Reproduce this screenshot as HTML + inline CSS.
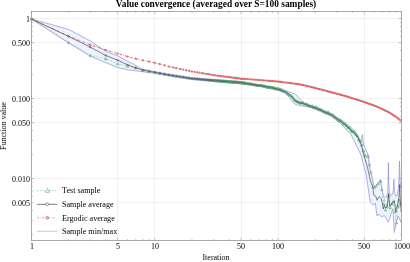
<!DOCTYPE html><html><head><meta charset="utf-8"><title>Value convergence</title><style>
html,body{margin:0;padding:0;background:#fff}
#c{position:relative;width:410px;height:262px;overflow:hidden;background:#fff;
   font-family:"Liberation Serif",serif;color:#000}
.t{position:absolute;white-space:nowrap;line-height:1;will-change:transform}
.tk{font-size:8px}
.xl{transform:translateX(-50%);top:242.7px}
.yl{right:380.5px;transform:translateY(-50%);margin-top:1.2px}
.lg{left:62.3px;font-size:8.12px;transform:translateY(-50%);margin-top:0.4px}
</style></head><body><div id="c">
<svg width="410" height="262" viewBox="0 0 410 262" style="position:absolute;left:0;top:0">
<rect width="410" height="262" fill="#fff"/>
<path d="M117.5,11.5 V240.5 M154.5,11.5 V240.5 M241.5,11.5 V240.5 M278.5,11.5 V240.5 M364.5,11.5 V240.5 M31.5,18.5 H401.5 M31.5,42.5 H401.5 M31.5,98.5 H401.5 M31.5,122.5 H401.5 M31.5,178.5 H401.5 M31.5,202.5 H401.5" stroke="#f1f1f1" stroke-width="1" fill="none"/>
<path d="M31.5,19.0 L68.6,29.4 L90.3,40.9 L105.8,51.4 L117.7,55.9 L127.5,61.2 L135.7,65.4 L142.9,69.2 L149.2,70.6 L154.8,71.6 L170.0,74.3 L192.0,77.8 L215.0,79.8 L241.0,81.8 L260.0,84.8 L278.3,88.6 L288.3,91.5 L295.7,94.3 L299.3,98.6 L302.4,102.4 L306.0,104.0 L320.0,108.6 L334.4,115.8 L343.0,121.2 L350.0,126.6 L355.9,132.4 L361.0,141.2 L362.4,134.6 L363.9,145.6 L366.0,150.0 L368.3,155.5 L369.5,167.9 L371.4,174.0 L373.9,185.9 L374.9,186.9 L380.4,180.3 L382.4,191.9 L383.8,197.3 L386.3,196.8 L387.6,194.0 L388.0,183.0 L388.4,162.7 L388.8,183.0 L389.3,193.0 L390.9,195.4 L392.8,194.0 L393.5,188.0 L393.9,179.2 L394.3,188.0 L395.0,194.5 L396.3,196.3 L397.8,193.0 L398.9,182.0 L399.5,161.0 L400.1,182.0 L400.7,188.0 L401.5,190.0 L401.5,223.0 L398.2,216.0 L396.2,222.9 L394.3,232.4 L393.8,222.8 L392.8,209.0 L390.8,214.9 L388.3,222.3 L384.3,215.4 L381.9,216.8 L378.9,214.4 L376.9,215.9 L375.4,203.0 L373.4,205.4 L370.4,202.0 L369.5,198.0 L369.0,193.8 L368.0,186.9 L366.0,174.0 L364.3,167.9 L361.0,155.0 L355.9,144.2 L350.0,132.6 L346.4,130.3 L344.9,127.8 L339.9,122.9 L330.0,115.8 L320.0,111.2 L310.0,107.3 L301.8,105.9 L295.7,104.7 L293.2,102.3 L289.6,97.6 L284.7,93.0 L278.3,90.4 L260.0,86.4 L241.0,83.4 L215.0,81.4 L192.0,79.4 L170.0,76.1 L154.8,73.4 L149.2,72.6 L142.9,71.8 L135.7,70.8 L127.5,69.8 L117.7,67.5 L105.8,62.7 L90.3,56.2 L68.6,42.9 L31.5,19.0Z" fill="#edf2fd" stroke="none"/>
<path d="M31.5,19.0 L68.6,42.5 L90.3,55.4 L105.8,58.8 L117.7,63.7 L127.5,66.0 L135.7,67.8 L142.9,70.2 L149.2,71.3 L154.8,72.3 L170.0,75.1 L192.0,78.5 L215.0,80.5 L241.0,82.5 L250.0,84.0 L260.0,85.5 L270.0,87.0 L278.3,89.0 L285.9,91.9 L290.8,95.3 L294.4,99.3 L298.1,101.8 L303.0,103.0 L310.0,105.6 L320.0,109.2 L330.0,113.8 L335.0,116.8 L339.9,120.3 L344.9,124.3 L349.8,128.6 L353.8,132.0 L357.3,135.5 L361.0,143.0 L364.6,154.0 L366.1,156.3 L368.0,156.3 L369.5,164.0 L370.5,170.0 L372.0,181.0 L372.9,186.9 L374.5,187.5 L377.0,185.0 L380.4,180.9 L381.9,188.9 L382.8,195.8 L383.6,204.0 L384.6,199.0 L385.5,210.0 L386.4,203.0 L387.2,207.0 L388.0,199.0 L388.8,196.0 L389.6,205.0 L390.4,209.0 L391.2,202.0 L392.0,204.5 L393.0,199.5 L394.0,206.0 L395.0,212.0 L395.7,218.0 L396.5,223.0 L397.2,212.0 L397.9,206.0 L398.6,209.0 L399.3,199.0 L400.0,206.0 L400.8,203.0 L401.5,210.0" fill="none" stroke="#58b070" stroke-width="0.45" stroke-dasharray="2,1.6"/>
<path d="M31.5,17.6 L33.0,20.2 L30.1,20.2Z M68.6,41.1 L70.1,43.7 L67.2,43.7Z M90.3,54.0 L91.8,56.6 L88.9,56.6Z M105.8,57.3 L107.2,59.9 L104.3,59.9Z M117.7,62.3 L119.2,64.9 L116.3,64.9Z M127.5,64.5 L128.9,67.2 L126.0,67.2Z M135.7,66.4 L137.2,69.0 L134.3,69.0Z M142.9,68.7 L144.3,71.4 L141.4,71.4Z M149.2,69.8 L150.6,72.5 L147.7,72.5Z M154.8,70.9 L156.3,73.5 L153.4,73.5Z M159.9,71.8 L161.4,74.4 L158.5,74.4Z M164.6,72.6 L166.0,75.2 L163.1,75.2Z M168.9,73.4 L170.3,76.0 L167.4,76.0Z M172.9,74.1 L174.3,76.7 L171.4,76.7Z M176.5,74.6 L178.0,77.3 L175.1,77.3Z M180.0,75.2 L181.5,77.8 L178.6,77.8Z M183.3,75.7 L184.7,78.3 L181.8,78.3Z M186.3,76.2 L187.8,78.8 L184.9,78.8Z M189.2,76.6 L190.7,79.2 L187.8,79.2Z M192.0,77.0 L193.4,79.6 L190.5,79.6Z M194.6,77.3 L196.0,79.9 L193.1,79.9Z M197.1,77.5 L198.5,80.1 L195.6,80.1Z M199.4,77.7 L200.9,80.3 L198.0,80.3Z M201.7,77.9 L203.2,80.5 L200.3,80.5Z M203.9,78.1 L205.4,80.7 L202.5,80.7Z M206.0,78.3 L207.5,80.9 L204.6,80.9Z M208.0,78.4 L209.5,81.1 L206.6,81.1Z M210.0,78.6 L211.4,81.2 L208.5,81.2Z M211.9,78.8 L213.3,81.4 L210.4,81.4Z M213.7,78.9 L215.1,81.5 L212.2,81.5Z M215.4,79.1 L216.9,81.7 L214.0,81.7Z M217.1,79.2 L218.6,81.8 L215.7,81.8Z M218.8,79.3 L220.2,82.0 L217.3,82.0Z M220.4,79.5 L221.8,82.1 L218.9,82.1Z M221.9,79.6 L223.4,82.2 L220.5,82.2Z M223.4,79.7 L224.9,82.3 L222.0,82.3Z M224.9,79.8 L226.4,82.4 L223.5,82.4Z M226.3,79.9 L227.8,82.5 L224.9,82.5Z M227.7,80.0 L229.2,82.7 L226.3,82.7Z M229.1,80.2 L230.5,82.8 L227.6,82.8Z M230.4,80.3 L231.9,82.9 L229.0,82.9Z M231.7,80.4 L233.1,83.0 L230.2,83.0Z M233.0,80.5 L234.4,83.1 L231.5,83.1Z M234.2,80.6 L235.6,83.2 L232.7,83.2Z M235.4,80.7 L236.8,83.3 L233.9,83.3Z M236.6,80.7 L238.0,83.3 L235.1,83.3Z M237.7,80.8 L239.2,83.4 L236.3,83.4Z M238.8,80.9 L240.3,83.5 L237.4,83.5Z M240.0,81.0 L241.4,83.6 L238.5,83.6Z M241.0,81.1 L242.5,83.7 L239.6,83.7Z M242.1,81.3 L243.5,83.8 L240.7,83.8Z M243.1,81.4 L244.6,84.0 L241.7,84.0Z M244.2,81.6 L245.6,84.2 L242.7,84.2Z M245.2,81.8 L246.6,84.3 L243.7,84.3Z M247.1,82.1 L248.5,84.6 L245.7,84.6Z M249.0,82.3 L250.4,84.8 L247.6,84.8Z M250.8,82.5 L252.2,85.1 L249.4,85.1Z M252.6,83.0 L254.0,85.5 L251.2,85.5Z M254.3,83.2 L255.6,85.7 L252.9,85.7Z M255.9,83.6 L257.3,86.0 L254.5,86.0Z M257.5,84.0 L258.9,86.4 L256.1,86.4Z M259.1,84.1 L260.4,86.5 L257.7,86.5Z M260.6,83.9 L261.9,86.4 L259.2,86.4Z M262.0,84.3 L263.4,86.7 L260.7,86.7Z M263.5,84.7 L264.8,87.1 L262.1,87.1Z M264.9,84.7 L266.2,87.1 L263.5,87.1Z M266.2,85.4 L267.6,87.9 L264.9,87.9Z M267.5,85.6 L268.9,88.1 L266.2,88.1Z M268.8,85.8 L270.2,88.2 L267.5,88.2Z M270.1,85.6 L271.4,88.1 L268.7,88.1Z M271.3,86.3 L272.6,88.7 L270.0,88.7Z M272.5,85.9 L273.8,88.3 L271.2,88.3Z M273.7,86.4 L275.0,88.7 L272.4,88.7Z M274.8,86.8 L276.2,89.2 L273.5,89.2Z M276.0,87.4 L277.3,89.8 L274.7,89.8Z M277.1,87.4 L278.4,89.7 L275.8,89.7Z M278.2,87.2 L279.5,89.6 L276.8,89.6Z M279.2,87.9 L280.5,90.2 L277.9,90.2Z M280.3,88.2 L281.6,90.6 L279.0,90.6Z M281.3,88.6 L282.6,90.9 L280.0,90.9Z M282.3,88.8 L283.6,91.1 L281.0,91.1Z M283.7,89.7 L285.0,92.0 L282.5,92.0Z M286.1,90.7 L287.4,93.0 L284.8,93.0Z M287.9,92.4 L289.2,94.7 L286.6,94.7Z M289.7,93.7 L291.0,96.0 L288.4,96.0Z M291.4,94.7 L292.7,97.0 L290.1,97.0Z M293.0,96.4 L294.3,98.7 L291.8,98.7Z M294.6,98.6 L295.9,100.9 L293.4,100.9Z M296.2,99.8 L297.5,102.1 L294.9,102.1Z M297.7,100.5 L299.0,102.8 L296.4,102.8Z M299.2,101.2 L300.4,103.5 L297.9,103.5Z M300.9,101.9 L302.2,104.2 L299.7,104.2Z M302.7,100.9 L303.9,103.2 L301.4,103.2Z M304.3,102.8 L305.6,105.1 L303.1,105.1Z M305.9,102.5 L307.2,104.8 L304.7,104.8Z M307.5,103.4 L308.8,105.7 L306.2,105.7Z M309.0,104.4 L310.3,106.7 L307.8,106.7Z M310.5,104.9 L311.8,107.2 L309.3,107.2Z M312.3,104.6 L313.5,106.9 L311.0,106.9Z M313.9,106.0 L315.2,108.3 L312.7,108.3Z M315.6,105.6 L316.8,107.9 L314.3,107.9Z M317.1,106.7 L318.4,109.0 L315.9,109.0Z M318.7,107.9 L319.9,110.2 L317.4,110.2Z M320.1,107.9 L321.4,110.2 L318.9,110.2Z M321.8,108.9 L323.1,111.2 L320.6,111.2Z M323.5,109.9 L324.7,112.2 L322.2,112.2Z M325.1,110.8 L326.3,113.1 L323.8,113.1Z M326.6,111.4 L327.9,113.7 L325.3,113.7Z M328.1,110.8 L329.4,113.1 L326.8,113.1Z M329.5,112.2 L330.8,114.5 L328.3,114.5Z M331.2,113.2 L332.4,115.5 L329.9,115.5Z M332.7,113.4 L334.0,115.7 L331.5,115.7Z M334.3,115.1 L335.5,117.4 L333.0,117.4Z M335.7,116.2 L337.0,118.5 L334.5,118.5Z M337.4,117.8 L338.6,120.1 L336.1,120.1Z M338.9,119.1 L340.2,121.4 L337.7,121.4Z M340.5,118.8 L341.7,121.1 L339.2,121.1Z M341.9,120.2 L343.2,122.5 L340.7,122.5Z M343.5,122.2 L344.8,124.5 L342.3,124.5Z M345.1,122.6 L346.4,124.9 L343.8,124.9Z M346.6,124.1 L347.9,126.4 L345.3,126.4Z M348.1,126.0 L349.4,128.3 L346.8,128.3Z M349.7,126.6 L350.9,128.9 L348.4,128.9Z M351.2,129.0 L352.5,131.3 L349.9,131.3Z M352.7,130.4 L354.0,132.7 L351.4,132.7Z M354.3,130.4 L355.5,132.7 L353.0,132.7Z M355.8,132.8 L357.1,135.1 L354.5,135.1Z M357.3,134.7 L358.5,137.0 L356.0,137.0Z M358.8,138.2 L360.1,140.5 L357.6,140.5Z M360.4,140.0 L361.6,142.3 L359.1,142.3Z M361.8,143.7 L363.1,146.0 L360.6,146.0Z M363.4,149.7 L364.7,152.0 L362.1,152.0Z M364.9,153.9 L366.2,156.2 L363.6,156.2Z" fill="#a4d6b2" stroke="#58aa72" stroke-width="0.42"/>
<path d="M368.0,154.7 L369.6,157.6 L366.4,157.6Z M369.6,163.4 L370.9,165.6 L368.4,165.6Z M370.8,171.0 L372.1,173.2 L369.6,173.2Z M372.9,185.7 L374.1,187.9 L371.6,187.9Z M374.6,186.1 L375.9,188.4 L373.4,188.4Z M376.3,184.4 L377.6,186.7 L375.1,186.7Z M378.2,182.3 L379.4,184.6 L376.9,184.6Z M380.4,179.3 L382.0,182.2 L378.8,182.2Z M382.0,188.4 L383.2,190.7 L380.8,190.7Z M383.6,202.8 L384.9,205.0 L382.4,205.0Z M385.5,208.8 L386.8,211.0 L384.2,211.0Z M387.2,205.8 L388.4,208.0 L385.9,208.0Z M388.8,194.8 L390.1,197.0 L387.6,197.0Z M390.2,206.8 L391.4,209.0 L388.9,209.0Z M391.8,202.6 L393.1,204.9 L390.6,204.9Z M393.4,200.8 L394.6,203.1 L392.1,203.1Z M395.0,210.8 L396.2,213.0 L393.8,213.0Z M396.5,221.8 L397.8,224.0 L395.2,224.0Z M397.9,204.8 L399.1,207.0 L396.6,207.0Z M399.2,199.2 L400.4,201.4 L397.9,201.4Z M400.6,202.5 L401.9,204.7 L399.4,204.7Z" fill="#a6d8b4" stroke="#4fa46a" stroke-width="0.4"/>
<path d="M31.5,19.0 L68.6,29.4 L90.3,40.9 L105.8,51.4 L117.7,55.9 L127.5,61.2 L135.7,65.4 L142.9,69.2 L149.2,70.6 L154.8,71.6 L170.0,74.3 L192.0,77.8 L215.0,79.8 L241.0,81.8 L260.0,84.8 L278.3,88.6 L288.3,91.5 L295.7,94.3 L299.3,98.6 L302.4,102.4 L306.0,104.0 L320.0,108.6 L334.4,115.8 L343.0,121.2 L350.0,126.6 L355.9,132.4 L361.0,141.2 L362.4,134.6 L363.9,145.6 L366.0,150.0 L368.3,155.5 L369.5,167.9 L371.4,174.0 L373.9,185.9 L374.9,186.9 L380.4,180.3 L382.4,191.9 L383.8,197.3 L386.3,196.8 L387.6,194.0 L388.0,183.0 L388.4,162.7 L388.8,183.0 L389.3,193.0 L390.9,195.4 L392.8,194.0 L393.5,188.0 L393.9,179.2 L394.3,188.0 L395.0,194.5 L396.3,196.3 L397.8,193.0 L398.9,182.0 L399.5,161.0 L400.1,182.0 L400.7,188.0 L401.5,190.0" fill="none" stroke="#8589d4" stroke-width="0.65"/>
<path d="M31.5,19.0 L68.6,42.9 L90.3,56.2 L105.8,62.7 L117.7,67.5 L127.5,69.8 L135.7,70.8 L142.9,71.8 L149.2,72.6 L154.8,73.4 L170.0,76.1 L192.0,79.4 L215.0,81.4 L241.0,83.4 L260.0,86.4 L278.3,90.4 L284.7,93.0 L289.6,97.6 L293.2,102.3 L295.7,104.7 L301.8,105.9 L310.0,107.3 L320.0,111.2 L330.0,115.8 L339.9,122.9 L344.9,127.8 L346.4,130.3 L350.0,132.6 L355.9,144.2 L361.0,155.0 L364.3,167.9 L366.0,174.0 L368.0,186.9 L369.0,193.8 L369.5,198.0 L370.4,202.0 L373.4,205.4 L375.4,203.0 L376.9,215.9 L378.9,214.4 L381.9,216.8 L384.3,215.4 L388.3,222.3 L390.8,214.9 L392.8,209.0 L393.8,222.8 L394.3,232.4 L396.2,222.9 L398.2,216.0 L401.5,223.0" fill="none" stroke="#8589d4" stroke-width="0.65"/>
<path d="M31.5,19.0 L68.6,36.4 L90.3,47.2 L105.8,55.5 L117.7,60.2 L127.5,64.8 L135.7,67.8 L142.9,70.2 L149.2,71.3 L154.8,72.3 L170.0,75.1 L192.0,78.5 L215.0,80.5 L241.0,82.5 L250.0,84.0 L260.0,85.5 L270.0,87.2 L278.3,89.3 L285.9,92.3 L290.8,95.7 L294.4,99.8 L298.1,102.3 L303.0,103.5 L310.0,106.2 L320.0,109.9 L330.0,114.4 L335.0,117.4 L339.9,120.9 L344.9,124.9 L349.8,129.3 L353.8,132.8 L357.3,136.5 L361.0,144.5 L363.9,155.0 L366.0,162.0 L367.6,168.2 L369.2,175.0 L370.5,181.4 L372.7,186.5 L373.8,195.2 L375.9,196.5 L377.1,200.3 L379.2,196.5 L381.3,198.6 L382.6,205.3 L383.3,209.0 L384.3,205.4 L385.3,207.9 L387.3,206.4 L388.6,193.6 L389.7,206.4 L391.3,204.5 L392.3,202.8 L394.4,200.7 L395.9,212.0 L397.7,204.0 L399.0,197.0 L399.6,184.5 L400.3,200.0 L400.8,206.0 L401.5,212.9" fill="none" stroke="#34343f" stroke-width="0.6"/>
<path d="M31.5,18.0 L32.5,19.0 L31.5,20.0 L30.5,19.0Z M68.6,35.4 L69.6,36.4 L68.6,37.4 L67.6,36.4Z M90.3,46.2 L91.3,47.2 L90.3,48.2 L89.3,47.2Z M105.8,54.5 L106.8,55.5 L105.8,56.5 L104.8,55.5Z M117.7,59.2 L118.7,60.2 L117.7,61.2 L116.7,60.2Z M127.5,63.8 L128.5,64.8 L127.5,65.8 L126.5,64.8Z M135.7,66.8 L136.7,67.8 L135.7,68.8 L134.7,67.8Z M142.9,69.2 L143.9,70.2 L142.9,71.2 L141.9,70.2Z M149.2,70.3 L150.2,71.3 L149.2,72.3 L148.2,71.3Z M154.8,71.3 L155.8,72.3 L154.8,73.3 L153.8,72.3Z M159.9,72.2 L160.9,73.2 L159.9,74.2 L158.9,73.2Z M164.6,73.1 L165.6,74.1 L164.6,75.1 L163.6,74.1Z M168.9,73.9 L169.9,74.9 L168.9,75.9 L167.9,74.9Z M172.9,74.5 L173.9,75.5 L172.9,76.5 L171.9,75.5Z M176.5,75.1 L177.5,76.1 L176.5,77.1 L175.5,76.1Z M180.0,75.6 L181.0,76.6 L180.0,77.6 L179.0,76.6Z M183.3,76.1 L184.3,77.1 L183.3,78.1 L182.3,77.1Z M186.3,76.6 L187.3,77.6 L186.3,78.6 L185.3,77.6Z M189.2,77.1 L190.2,78.1 L189.2,79.1 L188.2,78.1Z M192.0,77.5 L193.0,78.5 L192.0,79.5 L191.0,78.5Z M194.6,77.7 L195.6,78.7 L194.6,79.7 L193.6,78.7Z M197.1,77.9 L198.1,78.9 L197.1,79.9 L196.1,78.9Z M199.4,78.1 L200.4,79.1 L199.4,80.1 L198.4,79.1Z M201.7,78.3 L202.7,79.3 L201.7,80.3 L200.7,79.3Z M203.9,78.5 L204.9,79.5 L203.9,80.5 L202.9,79.5Z M206.0,78.7 L207.0,79.7 L206.0,80.7 L205.0,79.7Z M208.0,78.9 L209.0,79.9 L208.0,80.9 L207.0,79.9Z M210.0,79.1 L211.0,80.1 L210.0,81.1 L209.0,80.1Z M211.9,79.2 L212.9,80.2 L211.9,81.2 L210.9,80.2Z M213.7,79.4 L214.7,80.4 L213.7,81.4 L212.7,80.4Z M215.4,79.5 L216.4,80.5 L215.4,81.5 L214.4,80.5Z M217.1,79.7 L218.1,80.7 L217.1,81.6 L216.2,80.7Z M218.8,79.8 L219.7,80.8 L218.8,81.7 L217.8,80.8Z M220.4,80.0 L221.3,80.9 L220.4,81.9 L219.4,80.9Z M221.9,80.1 L222.8,81.0 L221.9,82.0 L221.0,81.0Z M223.4,80.3 L224.3,81.2 L223.4,82.1 L222.5,81.2Z M224.9,80.4 L225.8,81.3 L224.9,82.1 L224.0,81.3Z M226.3,80.5 L227.2,81.4 L226.3,82.2 L225.5,81.4Z M227.7,80.7 L228.6,81.5 L227.7,82.3 L226.9,81.5Z M229.1,80.8 L229.9,81.6 L229.1,82.4 L228.3,81.6Z M230.4,80.9 L231.2,81.7 L230.4,82.5 L229.6,81.7Z M231.7,81.0 L232.5,81.8 L231.7,82.6 L230.9,81.8Z M233.0,81.1 L233.7,81.9 L233.0,82.7 L232.2,81.9Z M234.2,81.3 L234.9,82.0 L234.2,82.8 L233.4,82.0Z M235.4,81.4 L236.1,82.1 L235.4,82.8 L234.7,82.1Z M236.6,81.5 L237.3,82.2 L236.6,82.9 L235.8,82.2Z M237.7,81.6 L238.4,82.3 L237.7,83.0 L237.0,82.3Z M238.8,81.7 L239.5,82.4 L238.8,83.1 L238.2,82.4Z M240.0,81.8 L240.6,82.5 L240.0,83.1 L239.3,82.5Z M241.0,81.9 L241.7,82.5 L241.0,83.2 L240.4,82.5Z M242.1,82.1 L242.7,82.7 L242.1,83.4 L241.4,82.7Z M243.1,82.2 L243.8,82.9 L243.1,83.5 L242.5,82.9Z M244.2,82.4 L244.8,83.0 L244.2,83.7 L243.5,83.0Z M245.2,82.6 L245.8,83.2 L245.2,83.8 L244.5,83.2Z M247.1,82.9 L247.7,83.5 L247.1,84.1 L246.5,83.5Z M249.0,83.2 L249.5,83.8 L249.0,84.4 L248.4,83.8Z M250.8,83.5 L251.3,84.1 L250.8,84.6 L250.3,84.1Z M252.6,83.8 L253.1,84.3 L252.6,84.9 L252.0,84.3Z M254.3,84.1 L254.7,84.6 L254.3,85.1 L253.8,84.6Z M255.9,84.4 L256.4,84.8 L255.9,85.3 L255.4,84.8Z M257.5,84.6 L258.0,85.1 L257.5,85.5 L257.1,85.1Z M259.1,84.9 L259.5,85.3 L259.1,85.8 L258.6,85.3Z M260.6,85.2 L261.0,85.6 L260.6,86.0 L260.2,85.6Z M262.0,85.4 L262.4,85.8 L262.0,86.2 L261.6,85.8Z M263.5,85.7 L263.8,86.1 L263.5,86.4 L263.1,86.1Z M264.9,85.9 L265.2,86.3 L264.9,86.7 L264.5,86.3Z M266.2,86.2 L266.5,86.5 L266.2,86.9 L265.9,86.5Z M267.5,86.4 L267.8,86.8 L267.5,87.1 L267.2,86.8Z M268.8,86.7 L269.1,87.0 L268.8,87.3 L268.5,87.0Z M270.1,86.9 L270.4,87.2 L270.1,87.5 L269.8,87.2Z M271.3,87.3 L271.6,87.5 L271.3,87.8 L271.0,87.5Z M272.5,87.6 L272.8,87.8 L272.5,88.1 L272.3,87.8Z M273.7,87.9 L273.9,88.1 L273.7,88.4 L273.5,88.1Z M274.8,88.2 L275.1,88.4 L274.8,88.6 L274.6,88.4Z M276.0,88.5 L276.2,88.7 L276.0,88.9 L275.8,88.7Z M277.1,88.8 L277.3,89.0 L277.1,89.2 L276.9,89.0Z M278.2,89.0 L278.4,89.3 L278.2,89.5 L277.9,89.3Z M279.2,89.4 L279.4,89.7 L279.2,89.9 L279.0,89.7Z M280.3,89.9 L280.5,90.1 L280.3,90.3 L280.0,90.1Z M281.3,90.3 L281.5,90.5 L281.3,90.7 L281.1,90.5Z M282.3,90.7 L282.5,90.9 L282.3,91.1 L282.1,90.9Z M283.7,91.2 L284.0,91.5 L283.7,91.7 L283.5,91.5Z M285.2,91.8 L285.4,92.0 L285.2,92.2 L285.0,92.0Z M286.6,92.5 L286.8,92.8 L286.6,93.0 L286.3,92.8Z M287.9,93.5 L288.1,93.7 L287.9,93.9 L287.7,93.7Z M289.2,94.4 L289.5,94.6 L289.2,94.8 L289.0,94.6Z M290.5,95.3 L290.8,95.5 L290.5,95.7 L290.3,95.5Z M291.8,96.6 L292.0,96.8 L291.8,97.0 L291.6,96.8Z M293.0,98.0 L293.3,98.2 L293.0,98.5 L292.8,98.2Z M294.2,99.4 L294.5,99.6 L294.2,99.8 L294.0,99.6Z M295.4,100.3 L295.6,100.5 L295.4,100.7 L295.2,100.5Z M296.6,101.0 L296.8,101.3 L296.6,101.5 L296.3,101.3Z M297.7,101.8 L297.9,102.0 L297.7,102.2 L297.5,102.0Z M298.8,102.3 L299.0,102.5 L298.8,102.7 L298.6,102.5Z M299.9,102.5 L300.1,102.7 L299.9,103.0 L299.7,102.7Z M300.9,102.8 L301.2,103.0 L300.9,103.2 L300.7,103.0Z M302.0,103.0 L302.2,103.2 L302.0,103.5 L301.8,103.2Z M303.0,103.3 L303.2,103.5 L303.0,103.7 L302.8,103.5Z M304.0,103.7 L304.2,103.9 L304.0,104.1 L303.8,103.9Z M305.3,104.2 L305.5,104.4 L305.3,104.6 L305.1,104.4Z M306.6,104.7 L306.8,104.9 L306.6,105.1 L306.4,104.9Z M307.8,105.1 L308.0,105.4 L307.8,105.6 L307.6,105.4Z M309.0,105.6 L309.3,105.8 L309.0,106.1 L308.8,105.8Z M310.2,106.1 L310.5,106.3 L310.2,106.5 L310.0,106.3Z M311.4,106.5 L311.6,106.7 L311.4,106.9 L311.2,106.7Z M312.5,106.9 L312.8,107.1 L312.5,107.4 L312.3,107.1Z M313.7,107.3 L313.9,107.6 L313.7,107.8 L313.4,107.6Z M314.7,107.7 L315.0,108.0 L314.7,108.2 L314.5,108.0Z M315.8,108.1 L316.0,108.4 L315.8,108.6 L315.6,108.4Z M316.9,108.5 L317.1,108.7 L316.9,109.0 L316.6,108.7Z M317.9,108.9 L318.1,109.1 L317.9,109.3 L317.7,109.1Z M318.9,109.3 L319.1,109.5 L318.9,109.7 L318.7,109.5Z M320.1,109.7 L320.4,110.0 L320.1,110.2 L319.9,110.0Z M321.4,110.3 L321.6,110.5 L321.4,110.7 L321.1,110.5Z M322.5,110.8 L322.8,111.0 L322.5,111.3 L322.3,111.0Z M323.7,111.3 L323.9,111.6 L323.7,111.8 L323.5,111.6Z M324.8,111.9 L325.0,112.1 L324.8,112.3 L324.6,112.1Z M325.9,112.4 L326.2,112.6 L325.9,112.8 L325.7,112.6Z M327.0,112.8 L327.2,113.1 L327.0,113.3 L326.8,113.1Z M328.1,113.3 L328.3,113.5 L328.1,113.8 L327.9,113.5Z M329.1,113.8 L329.4,114.0 L329.1,114.2 L328.9,114.0Z M330.2,114.3 L330.4,114.5 L330.2,114.7 L329.9,114.5Z M331.2,114.9 L331.4,115.1 L331.2,115.3 L330.9,115.1Z M332.3,115.6 L332.6,115.8 L332.3,116.0 L332.1,115.8Z M333.5,116.3 L333.7,116.5 L333.5,116.7 L333.3,116.5Z M334.6,117.0 L334.9,117.2 L334.6,117.4 L334.4,117.2Z M335.7,117.7 L336.0,117.9 L335.7,118.1 L335.5,117.9Z M336.8,118.5 L337.0,118.7 L336.8,118.9 L336.6,118.7Z M337.9,119.2 L338.1,119.5 L337.9,119.7 L337.7,119.5Z M338.9,120.0 L339.2,120.2 L338.9,120.4 L338.7,120.2Z M340.0,120.7 L340.2,120.9 L340.0,121.2 L339.7,120.9Z M341.0,121.5 L341.2,121.7 L341.0,122.0 L340.7,121.7Z M342.1,122.4 L342.3,122.7 L342.1,122.9 L341.9,122.7Z M343.2,123.3 L343.5,123.6 L343.2,123.8 L343.0,123.6Z M344.3,124.2 L344.6,124.4 L344.3,124.7 L344.1,124.4Z M345.4,125.1 L345.6,125.4 L345.4,125.6 L345.2,125.4Z M346.5,126.1 L346.7,126.3 L346.5,126.5 L346.3,126.3Z M347.5,127.0 L347.7,127.2 L347.5,127.5 L347.3,127.2Z M348.5,127.9 L348.7,128.2 L348.5,128.4 L348.3,128.2Z M349.7,129.0 L349.9,129.2 L349.7,129.4 L349.4,129.2Z M350.8,129.9 L351.0,130.2 L350.8,130.4 L350.6,130.2Z M351.9,130.9 L352.1,131.1 L351.9,131.3 L351.7,131.1Z M352.9,131.8 L353.2,132.1 L352.9,132.3 L352.7,132.1Z M354.0,132.8 L354.2,133.0 L354.0,133.2 L353.8,133.0Z M355.0,133.9 L355.2,134.1 L355.0,134.3 L354.8,134.1Z M356.0,134.9 L356.3,135.2 L356.0,135.4 L355.8,135.2Z M357.2,136.1 L357.4,136.3 L357.2,136.6 L356.9,136.3Z M358.2,138.3 L358.5,138.5 L358.2,138.8 L358.0,138.5Z M359.3,140.6 L359.5,140.9 L359.3,141.1 L359.1,140.9Z M360.4,142.9 L360.6,143.1 L360.4,143.3 L360.1,143.1Z M361.4,145.7 L361.6,145.9 L361.4,146.1 L361.2,145.9Z M362.4,149.3 L362.6,149.6 L362.4,149.8 L362.2,149.6Z M363.5,153.3 L363.7,153.6 L363.5,153.8 L363.3,153.6Z M364.6,157.0 L364.8,157.3 L364.6,157.5 L364.4,157.3Z M365.6,160.6 L365.9,160.8 L365.6,161.0 L365.4,160.8Z" fill="#85858c" stroke="#3a3a46" stroke-width="0.38"/>
<path d="M215.4,78.9 L217.0,81.8 L213.8,81.8Z M217.1,79.1 L218.7,81.9 L215.5,81.9Z M218.8,79.2 L220.4,82.1 L217.2,82.1Z M220.4,79.3 L222.0,82.2 L218.8,82.2Z M221.9,79.4 L223.5,82.3 L220.3,82.3Z M223.4,79.6 L225.0,82.4 L221.8,82.4Z M224.9,79.7 L226.5,82.6 L223.3,82.6Z M226.3,79.8 L227.9,82.7 L224.7,82.7Z M227.7,79.9 L229.3,82.8 L226.1,82.8Z M229.1,80.0 L230.7,82.9 L227.5,82.9Z M230.4,80.1 L232.0,83.0 L228.8,83.0Z M231.7,80.2 L233.3,83.1 L230.1,83.1Z M233.0,80.3 L234.6,83.2 L231.4,83.2Z M234.2,80.4 L235.8,83.3 L232.6,83.3Z M235.4,80.5 L237.0,83.4 L233.8,83.4Z M236.6,80.6 L238.2,83.5 L235.0,83.5Z M237.7,80.7 L239.3,83.5 L236.1,83.5Z M238.8,80.8 L240.4,83.6 L237.3,83.6Z M240.0,80.9 L241.5,83.7 L238.4,83.7Z M241.0,81.0 L242.6,83.8 L239.5,83.8Z M242.1,81.1 L243.7,84.0 L240.5,84.0Z M243.1,81.3 L244.7,84.1 L241.6,84.1Z M244.2,81.5 L245.7,84.3 L242.6,84.3Z M245.2,81.7 L246.7,84.4 L243.6,84.4Z M247.1,82.0 L248.6,84.7 L245.6,84.7Z M249.0,82.1 L250.5,84.9 L247.5,84.9Z M250.8,82.4 L252.3,85.1 L249.3,85.1Z M252.6,82.9 L254.1,85.6 L251.1,85.6Z M254.3,83.1 L255.7,85.8 L252.8,85.8Z M255.9,83.5 L257.4,86.1 L254.4,86.1Z M257.5,83.9 L259.0,86.5 L256.0,86.5Z M259.1,84.0 L260.5,86.6 L257.6,86.6Z M260.6,83.8 L262.0,86.4 L259.1,86.4Z M262.0,84.2 L263.5,86.8 L260.6,86.8Z M263.5,84.6 L264.9,87.2 L262.0,87.2Z M264.9,84.6 L266.3,87.1 L263.4,87.1Z M266.2,85.4 L267.6,87.9 L264.8,87.9Z M267.5,85.6 L268.9,88.1 L266.1,88.1Z M268.8,85.7 L270.2,88.2 L267.4,88.2Z M270.1,85.6 L271.5,88.1 L268.7,88.1Z M271.3,86.2 L272.7,88.7 L269.9,88.7Z M272.5,85.9 L273.9,88.3 L271.1,88.3Z M273.7,86.3 L275.1,88.8 L272.3,88.8Z M274.8,86.8 L276.2,89.2 L273.5,89.2Z M276.0,87.3 L277.3,89.8 L274.6,89.8Z M277.1,87.3 L278.4,89.8 L275.7,89.8Z M278.2,87.2 L279.5,89.6 L276.8,89.6Z M279.2,87.8 L280.6,90.2 L277.9,90.2Z M280.3,88.2 L281.6,90.6 L278.9,90.6Z M281.3,88.6 L282.6,91.0 L280.0,91.0Z M282.3,88.8 L283.6,91.2 L281.0,91.2Z M283.7,89.7 L285.1,92.0 L282.4,92.0Z M286.1,90.7 L287.4,93.0 L284.8,93.0Z M287.9,92.4 L289.2,94.7 L286.6,94.7Z M289.7,93.7 L291.0,96.0 L288.4,96.0Z M291.4,94.7 L292.7,97.0 L290.1,97.0Z M293.0,96.4 L294.3,98.7 L291.8,98.7Z M294.6,98.6 L295.9,100.9 L293.3,100.9Z M296.2,99.8 L297.5,102.1 L294.9,102.1Z M297.7,100.5 L299.0,102.8 L296.4,102.8Z M299.2,101.2 L300.4,103.5 L297.9,103.5Z M300.9,101.9 L302.2,104.2 L299.7,104.2Z M302.7,100.9 L303.9,103.2 L301.4,103.2Z M304.3,102.8 L305.6,105.1 L303.0,105.1Z M305.9,102.5 L307.2,104.8 L304.7,104.8Z M307.5,103.4 L308.8,105.7 L306.2,105.7Z M309.0,104.4 L310.3,106.7 L307.8,106.7Z M310.5,104.9 L311.8,107.2 L309.2,107.2Z M312.3,104.6 L313.5,106.9 L311.0,106.9Z M313.9,106.0 L315.2,108.3 L312.6,108.3Z M315.6,105.6 L316.8,107.9 L314.3,107.9Z M317.1,106.7 L318.4,109.0 L315.8,109.0Z M318.7,107.9 L319.9,110.2 L317.4,110.2Z M320.1,107.9 L321.4,110.2 L318.9,110.2Z M321.8,108.9 L323.1,111.2 L320.6,111.2Z M323.5,109.9 L324.7,112.2 L322.2,112.2Z M325.1,110.8 L326.3,113.1 L323.8,113.1Z M326.6,111.4 L327.9,113.7 L325.3,113.7Z M328.1,110.8 L329.4,113.1 L326.8,113.1Z M329.5,112.2 L330.8,114.5 L328.3,114.5Z M331.2,113.2 L332.4,115.5 L329.9,115.5Z M332.7,113.4 L334.0,115.7 L331.5,115.7Z M334.3,115.1 L335.5,117.4 L333.0,117.4Z M335.7,116.2 L337.0,118.5 L334.5,118.5Z M337.4,117.8 L338.6,120.1 L336.1,120.1Z M338.9,119.1 L340.2,121.4 L337.7,121.4Z M340.5,118.8 L341.7,121.1 L339.2,121.1Z M341.9,120.2 L343.2,122.5 L340.7,122.5Z M343.5,122.2 L344.8,124.5 L342.3,124.5Z M345.1,122.6 L346.4,124.9 L343.8,124.9Z M346.6,124.1 L347.9,126.4 L345.3,126.4Z M348.1,126.0 L349.4,128.3 L346.8,128.3Z M349.7,126.6 L350.9,128.9 L348.4,128.9Z M351.2,129.0 L352.5,131.3 L349.9,131.3Z M352.7,130.4 L354.0,132.7 L351.4,132.7Z M354.3,130.4 L355.5,132.7 L353.0,132.7Z M355.8,132.8 L357.1,135.1 L354.5,135.1Z M357.3,134.7 L358.6,137.0 L356.0,137.0Z M358.8,138.2 L360.1,140.5 L357.6,140.5Z M360.4,140.0 L361.6,142.3 L359.1,142.3Z M361.8,143.7 L363.1,146.0 L360.6,146.0Z M363.4,149.7 L364.7,152.0 L362.1,152.0Z M364.9,153.9 L366.2,156.2 L363.6,156.2Z" fill="none" stroke="#4aa866" stroke-width="0.4" stroke-opacity="0.75"/>
<path d="M31.5,19.0 L68.6,36.3 L90.3,44.8 L105.8,50.0 L117.7,53.6 L127.5,56.6 L135.7,58.7 L142.9,60.4 L149.2,61.6 L154.8,62.9 L170.0,66.7 L192.0,71.5 L215.0,75.3 L241.0,78.7 L250.0,79.3 L270.0,80.9 L278.3,81.6 L290.0,83.0 L300.0,84.4 L312.0,87.2 L324.4,90.4 L336.5,93.6 L348.9,97.1 L352.0,98.1 L364.2,102.0 L376.4,106.4 L388.7,112.2 L396.0,116.8 L401.5,121.2" fill="none" stroke="#c62828" stroke-width="0.7" stroke-dasharray="2.2,1.4,0.6,1.4"/>
<g fill="#f1b3b3" stroke="#c62828" stroke-width="0.45"><circle cx="31.5" cy="19.0" r="0.82"/><circle cx="68.6" cy="36.3" r="0.82"/><circle cx="90.3" cy="44.8" r="0.82"/><circle cx="105.8" cy="50.0" r="0.82"/><circle cx="117.7" cy="53.6" r="0.82"/><circle cx="127.5" cy="56.6" r="0.82"/><circle cx="135.7" cy="58.7" r="0.82"/><circle cx="142.9" cy="60.4" r="0.82"/><circle cx="149.2" cy="61.6" r="0.82"/><circle cx="154.8" cy="62.9" r="0.82"/><circle cx="159.9" cy="64.2" r="0.82"/><circle cx="164.6" cy="65.4" r="0.82"/><circle cx="168.9" cy="66.5" r="0.82"/><circle cx="172.9" cy="67.4" r="0.82"/><circle cx="176.5" cy="68.2" r="0.82"/><circle cx="180.0" cy="68.9" r="0.82"/><circle cx="183.3" cy="69.6" r="0.82"/><circle cx="186.3" cy="70.3" r="0.82"/><circle cx="189.2" cy="70.9" r="0.82"/><circle cx="192.0" cy="71.5" r="0.82"/><circle cx="194.6" cy="71.9" r="0.82"/><circle cx="197.1" cy="72.3" r="0.82"/><circle cx="199.4" cy="72.7" r="0.82"/><circle cx="201.7" cy="73.1" r="0.82"/><circle cx="203.9" cy="73.5" r="0.82"/><circle cx="206.0" cy="73.8" r="0.81"/><circle cx="208.0" cy="74.1" r="0.81"/><circle cx="210.0" cy="74.5" r="0.81"/><circle cx="211.9" cy="74.8" r="0.81"/><circle cx="213.7" cy="75.1" r="0.80"/><circle cx="215.4" cy="75.4" r="0.80"/><circle cx="217.1" cy="75.6" r="0.80"/><circle cx="218.8" cy="75.8" r="0.80"/><circle cx="220.4" cy="76.0" r="0.79"/><circle cx="221.9" cy="76.2" r="0.79"/><circle cx="223.4" cy="76.4" r="0.79"/><circle cx="224.9" cy="76.6" r="0.79"/><circle cx="226.3" cy="76.8" r="0.79"/><circle cx="227.7" cy="77.0" r="0.79"/><circle cx="229.1" cy="77.1" r="0.78"/><circle cx="230.4" cy="77.3" r="0.78"/><circle cx="231.7" cy="77.5" r="0.78"/><circle cx="233.0" cy="77.6" r="0.78"/><circle cx="234.2" cy="77.8" r="0.78"/><circle cx="235.4" cy="78.0" r="0.78"/><circle cx="236.6" cy="78.1" r="0.77"/><circle cx="237.7" cy="78.3" r="0.77"/><circle cx="238.8" cy="78.4" r="0.77"/><circle cx="240.0" cy="78.6" r="0.77"/><circle cx="241.0" cy="78.7" r="0.77"/><circle cx="242.1" cy="78.8" r="0.77"/><circle cx="243.1" cy="78.8" r="0.77"/><circle cx="244.2" cy="78.9" r="0.76"/><circle cx="245.2" cy="79.0" r="0.76"/><circle cx="247.1" cy="79.1" r="0.76"/><circle cx="249.0" cy="79.2" r="0.76"/><circle cx="250.8" cy="79.4" r="0.76"/><circle cx="252.6" cy="79.5" r="0.75"/><circle cx="254.3" cy="79.6" r="0.75"/><circle cx="255.9" cy="79.8" r="0.75"/><circle cx="257.5" cy="79.9" r="0.75"/><circle cx="259.1" cy="80.0" r="0.75"/><circle cx="260.6" cy="80.1" r="0.74"/><circle cx="262.0" cy="80.3" r="0.74"/><circle cx="263.5" cy="80.4" r="0.74"/><circle cx="264.9" cy="80.5" r="0.74"/><circle cx="266.2" cy="80.6" r="0.74"/><circle cx="267.5" cy="80.7" r="0.74"/><circle cx="268.8" cy="80.8" r="0.74"/><circle cx="270.1" cy="80.9" r="0.74"/><circle cx="271.3" cy="81.0" r="0.74"/><circle cx="272.5" cy="81.1" r="0.74"/><circle cx="273.7" cy="81.2" r="0.74"/><circle cx="274.8" cy="81.3" r="0.74"/><circle cx="276.0" cy="81.4" r="0.74"/><circle cx="277.1" cy="81.5" r="0.74"/><circle cx="278.2" cy="81.6" r="0.74"/><circle cx="279.2" cy="81.7" r="0.74"/><circle cx="280.3" cy="81.8" r="0.74"/><circle cx="281.3" cy="82.0" r="0.74"/><circle cx="282.3" cy="82.1" r="0.74"/><circle cx="283.7" cy="82.3" r="0.74"/><circle cx="285.2" cy="82.4" r="0.74"/><circle cx="286.6" cy="82.6" r="0.74"/><circle cx="287.9" cy="82.8" r="0.74"/><circle cx="289.2" cy="82.9" r="0.74"/><circle cx="290.5" cy="83.1" r="0.74"/><circle cx="291.8" cy="83.3" r="0.74"/><circle cx="293.0" cy="83.4" r="0.74"/><circle cx="294.2" cy="83.6" r="0.74"/><circle cx="295.4" cy="83.8" r="0.74"/><circle cx="296.6" cy="83.9" r="0.74"/><circle cx="297.7" cy="84.1" r="0.74"/><circle cx="298.8" cy="84.2" r="0.74"/><circle cx="299.9" cy="84.4" r="0.74"/><circle cx="300.9" cy="84.6" r="0.74"/><circle cx="302.0" cy="84.9" r="0.74"/><circle cx="303.0" cy="85.1" r="0.74"/><circle cx="304.0" cy="85.3" r="0.74"/><circle cx="305.3" cy="85.6" r="0.74"/><circle cx="306.6" cy="85.9" r="0.74"/><circle cx="307.8" cy="86.2" r="0.74"/><circle cx="309.0" cy="86.5" r="0.74"/><circle cx="310.2" cy="86.8" r="0.74"/><circle cx="311.4" cy="87.1" r="0.74"/><circle cx="312.5" cy="87.3" r="0.74"/><circle cx="313.7" cy="87.6" r="0.74"/><circle cx="314.7" cy="87.9" r="0.74"/><circle cx="315.8" cy="88.2" r="0.74"/><circle cx="316.9" cy="88.5" r="0.74"/><circle cx="317.9" cy="88.7" r="0.74"/><circle cx="318.9" cy="89.0" r="0.74"/><circle cx="320.1" cy="89.3" r="0.74"/><circle cx="321.4" cy="89.6" r="0.74"/><circle cx="322.5" cy="89.9" r="0.74"/><circle cx="323.7" cy="90.2" r="0.74"/><circle cx="324.8" cy="90.5" r="0.74"/><circle cx="325.9" cy="90.8" r="0.74"/><circle cx="327.0" cy="91.1" r="0.74"/><circle cx="328.1" cy="91.4" r="0.74"/><circle cx="329.1" cy="91.7" r="0.74"/><circle cx="330.2" cy="91.9" r="0.74"/><circle cx="331.2" cy="92.2" r="0.74"/><circle cx="332.3" cy="92.5" r="0.74"/><circle cx="333.5" cy="92.8" r="0.74"/><circle cx="334.6" cy="93.1" r="0.74"/><circle cx="335.7" cy="93.4" r="0.74"/><circle cx="336.8" cy="93.7" r="0.74"/><circle cx="337.9" cy="94.0" r="0.74"/><circle cx="338.9" cy="94.3" r="0.74"/><circle cx="340.0" cy="94.6" r="0.74"/><circle cx="341.0" cy="94.9" r="0.74"/><circle cx="342.1" cy="95.2" r="0.74"/><circle cx="343.2" cy="95.5" r="0.74"/><circle cx="344.3" cy="95.8" r="0.74"/><circle cx="345.4" cy="96.1" r="0.74"/><circle cx="346.5" cy="96.4" r="0.74"/><circle cx="347.5" cy="96.7" r="0.74"/><circle cx="348.5" cy="97.0" r="0.74"/><circle cx="349.7" cy="97.3" r="0.74"/><circle cx="350.8" cy="97.7" r="0.74"/><circle cx="351.9" cy="98.1" r="0.74"/><circle cx="352.9" cy="98.4" r="0.74"/><circle cx="354.0" cy="98.7" r="0.74"/><circle cx="355.0" cy="99.1" r="0.74"/><circle cx="356.0" cy="99.4" r="0.74"/><circle cx="357.2" cy="99.7" r="0.74"/><circle cx="358.2" cy="100.1" r="0.74"/><circle cx="359.3" cy="100.4" r="0.74"/><circle cx="360.4" cy="100.8" r="0.74"/><circle cx="361.4" cy="101.1" r="0.74"/><circle cx="362.4" cy="101.4" r="0.74"/><circle cx="363.5" cy="101.8" r="0.74"/><circle cx="364.6" cy="102.1" r="0.74"/><circle cx="365.6" cy="102.5" r="0.74"/><circle cx="366.7" cy="102.9" r="0.74"/><circle cx="367.7" cy="103.3" r="0.74"/><circle cx="368.8" cy="103.7" r="0.74"/><circle cx="369.9" cy="104.0" r="0.74"/><circle cx="370.9" cy="104.4" r="0.74"/><circle cx="371.9" cy="104.8" r="0.74"/><circle cx="373.0" cy="105.2" r="0.74"/><circle cx="374.0" cy="105.5" r="0.74"/><circle cx="375.1" cy="105.9" r="0.74"/><circle cx="376.1" cy="106.3" r="0.74"/><circle cx="377.2" cy="106.8" r="0.74"/><circle cx="378.2" cy="107.2" r="0.74"/><circle cx="379.2" cy="107.7" r="0.74"/><circle cx="380.3" cy="108.2" r="0.74"/><circle cx="381.3" cy="108.7" r="0.74"/><circle cx="382.3" cy="109.2" r="0.74"/><circle cx="383.4" cy="109.7" r="0.74"/><circle cx="384.4" cy="110.2" r="0.74"/><circle cx="385.4" cy="110.7" r="0.74"/><circle cx="386.4" cy="111.1" r="0.74"/><circle cx="387.5" cy="111.6" r="0.74"/><circle cx="388.5" cy="112.1" r="0.74"/><circle cx="389.5" cy="112.7" r="0.74"/><circle cx="390.6" cy="113.4" r="0.74"/><circle cx="391.6" cy="114.1" r="0.74"/><circle cx="392.7" cy="114.7" r="0.74"/><circle cx="393.7" cy="115.3" r="0.74"/><circle cx="394.7" cy="116.0" r="0.74"/><circle cx="395.7" cy="116.6" r="0.74"/><circle cx="396.7" cy="117.4" r="0.74"/><circle cx="397.8" cy="118.2" r="0.74"/><circle cx="398.8" cy="119.0" r="0.74"/><circle cx="399.8" cy="119.8" r="0.74"/><circle cx="400.8" cy="120.7" r="0.74"/></g>
<path d="M31.50,240.5 v-2.6 M31.50,11.5 v2.6 M68.63,240.5 v-1.5 M68.63,11.5 v1.5 M90.34,240.5 v-1.5 M90.34,11.5 v1.5 M105.75,240.5 v-1.5 M105.75,11.5 v1.5 M117.70,240.5 v-2.6 M117.70,11.5 v2.6 M127.47,240.5 v-1.5 M127.47,11.5 v1.5 M135.73,240.5 v-1.5 M135.73,11.5 v1.5 M142.88,240.5 v-1.5 M142.88,11.5 v1.5 M149.19,240.5 v-1.5 M149.19,11.5 v1.5 M154.83,240.5 v-2.6 M154.83,11.5 v2.6 M191.96,240.5 v-1.5 M191.96,11.5 v1.5 M213.67,240.5 v-1.5 M213.67,11.5 v1.5 M229.08,240.5 v-1.5 M229.08,11.5 v1.5 M241.03,240.5 v-2.6 M241.03,11.5 v2.6 M250.80,240.5 v-1.5 M250.80,11.5 v1.5 M259.06,240.5 v-1.5 M259.06,11.5 v1.5 M266.21,240.5 v-1.5 M266.21,11.5 v1.5 M272.52,240.5 v-1.5 M272.52,11.5 v1.5 M278.16,240.5 v-2.6 M278.16,11.5 v2.6 M315.29,240.5 v-1.5 M315.29,11.5 v1.5 M337.00,240.5 v-1.5 M337.00,11.5 v1.5 M352.41,240.5 v-1.5 M352.41,11.5 v1.5 M364.36,240.5 v-2.6 M364.36,11.5 v2.6 M374.13,240.5 v-1.5 M374.13,11.5 v1.5 M382.39,240.5 v-1.5 M382.39,11.5 v1.5 M389.54,240.5 v-1.5 M389.54,11.5 v1.5 M395.85,240.5 v-1.5 M395.85,11.5 v1.5 M31.5,18.70 h2.6 M401.5,18.70 h-2.6 M31.5,98.70 h2.6 M401.5,98.70 h-2.6 M31.5,74.62 h1.5 M401.5,74.62 h-1.5 M31.5,60.53 h1.5 M401.5,60.53 h-1.5 M31.5,50.54 h1.5 M401.5,50.54 h-1.5 M31.5,42.78 h2.6 M401.5,42.78 h-2.6 M31.5,36.45 h1.5 M401.5,36.45 h-1.5 M31.5,31.09 h1.5 M401.5,31.09 h-1.5 M31.5,26.45 h1.5 M401.5,26.45 h-1.5 M31.5,22.36 h1.5 M401.5,22.36 h-1.5 M31.5,178.70 h2.6 M401.5,178.70 h-2.6 M31.5,154.62 h1.5 M401.5,154.62 h-1.5 M31.5,140.53 h1.5 M401.5,140.53 h-1.5 M31.5,130.54 h1.5 M401.5,130.54 h-1.5 M31.5,122.78 h2.6 M401.5,122.78 h-2.6 M31.5,116.45 h1.5 M401.5,116.45 h-1.5 M31.5,111.09 h1.5 M401.5,111.09 h-1.5 M31.5,106.45 h1.5 M401.5,106.45 h-1.5 M31.5,102.36 h1.5 M401.5,102.36 h-1.5 M31.5,234.62 h1.5 M401.5,234.62 h-1.5 M31.5,220.53 h1.5 M401.5,220.53 h-1.5 M31.5,210.54 h1.5 M401.5,210.54 h-1.5 M31.5,202.78 h2.6 M401.5,202.78 h-2.6 M31.5,196.45 h1.5 M401.5,196.45 h-1.5 M31.5,191.09 h1.5 M401.5,191.09 h-1.5 M31.5,186.45 h1.5 M401.5,186.45 h-1.5 M31.5,182.36 h1.5 M401.5,182.36 h-1.5" stroke="#8a8a8a" stroke-width="0.5" fill="none"/>
<rect x="31.5" y="11.5" width="370.0" height="229.0" fill="none" stroke="#949494" stroke-width="0.8"/>
<rect x="33" y="183.5" width="83.8" height="55" fill="#fff"/>
<path d="M37,190.6 H56" stroke="#58b070" stroke-width="0.5" stroke-dasharray="1.7,1.3"/>
<path d="M47.4,188.2 L49.6,192.3 L45.2,192.3Z" fill="#f2fbf4" stroke="#4aa866" stroke-width="0.55"/>
<path d="M37,204.3 H57.3" stroke="#4a4a52" stroke-width="0.7"/>
<path d="M47.2,202.8 L49.3,204.3 L47.2,205.8 L45.1,204.3Z" fill="#f4f4f4" stroke="#3a3a44" stroke-width="0.5"/>
<path d="M37,217.8 H56" stroke="#d04040" stroke-width="0.5" stroke-dasharray="2,1.3,0.6,1.3"/>
<circle cx="47.4" cy="217.8" r="1.3" fill="#f6c4c4" stroke="#c83030" stroke-width="0.55"/>
<path d="M37,231.3 H57.3" stroke="#a4a7e4" stroke-width="0.65"/>
</svg>
<div class="t" style="left:215.8px;top:-0.3px;transform:translateX(-50%);font-weight:bold;font-size:9.4px">Value convergence (averaged over S=100 samples)</div>
<div class="t tk xl" style="left:31.5px">1</div>
<div class="t tk xl" style="left:117.7px">5</div>
<div class="t tk xl" style="left:154.8px">10</div>
<div class="t tk xl" style="left:241.0px">50</div>
<div class="t tk xl" style="left:278.2px">100</div>
<div class="t tk xl" style="left:364.4px">500</div>
<div class="t tk xl" style="left:401.5px">1000</div>
<div class="t tk yl" style="top:18.7px">1</div>
<div class="t tk yl" style="top:42.8px">0.500</div>
<div class="t tk yl" style="top:98.7px">0.100</div>
<div class="t tk yl" style="top:122.8px">0.050</div>
<div class="t tk yl" style="top:178.7px">0.010</div>
<div class="t tk yl" style="top:202.8px">0.005</div>
<div class="t tk" style="left:216.2px;top:257.5px;transform:translate(-50%,-50%)">Iteration</div>
<div class="t tk" style="left:4.3px;top:125.7px;transform:translate(-50%,-50%) rotate(-90deg)">Function value</div>
<div class="t lg" style="top:190.6px">Test sample</div>
<div class="t lg" style="top:204.8px">Sample average</div>
<div class="t lg" style="top:218.4px">Ergodic average</div>
<div class="t lg" style="top:232.0px">Sample min/max</div>
</div></body></html>
